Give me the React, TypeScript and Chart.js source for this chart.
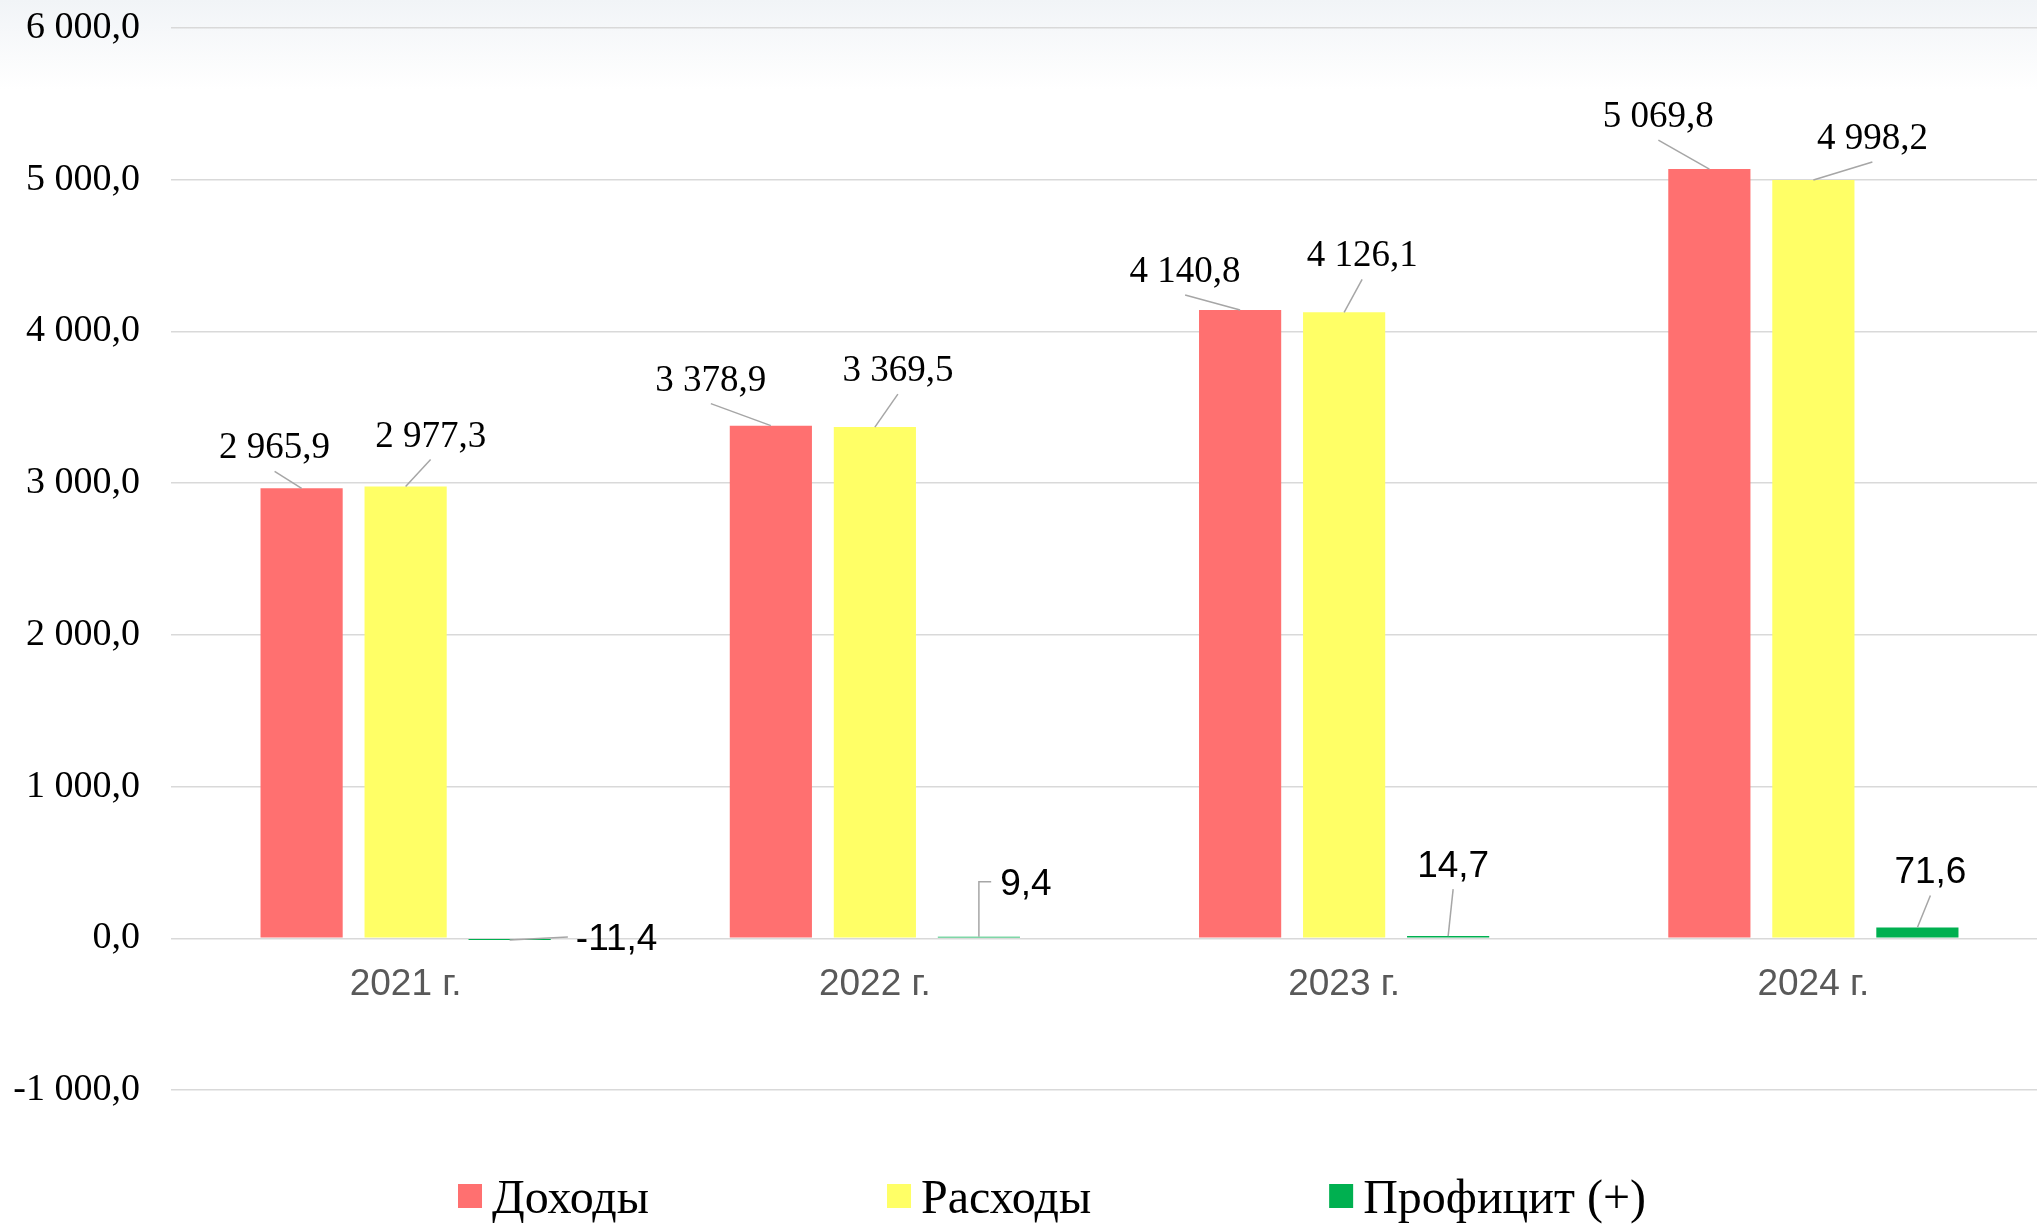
import React, { useEffect, useRef } from "react";
import { Chart, registerables } from "chart.js";

Chart.register(...registerables);

// ---- data ----
const categories = ["2021 г.", "2022 г.", "2023 г.", "2024 г."];
const seriesNames = ["Доходы", "Расходы", "Профицит (+)"];
const incomeValues = [2965.9, 3378.9, 4140.8, 5069.8];
const expenseValues = [2977.3, 3369.5, 4126.1, 4998.2];
const surplusValues = [-11.4, 9.4, 14.7, 71.6];
const yTickMin = -1000;
const yTickMax = 6000;
const yTickStep = 1000;

// ---- style / placement (not data) ----
const colors = ["#FF7070", "#FFFF66", "#00B050"];
const labelOffsets = [
  [[-27, -42], [-60, -47], [-55, -40], [-51, -54]],
  [[25, -52], [23, -58], [18, -58], [59, -43]],
  [[107, -3], [47, -55], [5, -72], [13, -57]],
];
const leaderKinds = [
  ["below", "below", "below", "below"],
  ["below", "below", "below", "below"],
  ["left", "elbow", "below", "below"],
];
const serif = "'Liberation Serif', 'Times New Roman', serif";
const sans = "'Liberation Sans', Arial, sans-serif";

function fmt(v: number): string {
  const neg = v < 0;
  const s = Math.abs(v).toFixed(1);
  const [ip, dp] = s.split(".");
  const grouped = ip.replace(/\B(?=(\d{3})+(?!\d))/g, " ");
  return (neg ? "-" : "") + grouped + "," + dp;
}

const labelPlugin = {
  id: "barLabels",
  afterDatasetsDraw(chart: any) {
    const ctx = chart.ctx;
    ctx.save();
    chart.data.datasets.forEach((ds: any, di: number) => {
      const meta = chart.getDatasetMeta(di);
      const isSans = di === 2;
      ctx.font = `37px ${isSans ? sans : serif}`;
      meta.data.forEach((el: any, j: number) => {
        const v = ds.data[j];
        const text = fmt(v);
        const [dx, dy] = labelOffsets[di][j];
        const bx = el.x;
        const by = el.y;
        const lx = bx + dx;
        const ly = by + dy;
        const w = ctx.measureText(text).width;
        ctx.strokeStyle = "#a6a6a6";
        ctx.lineWidth = 1.5;
        ctx.beginPath();
        const kind = leaderKinds[di][j];
        if (kind === "below") {
          ctx.moveTo(lx, ly + 25);
          ctx.lineTo(bx, by);
        } else if (kind === "left") {
          ctx.moveTo(bx, by);
          ctx.lineTo(lx - w / 2 - 8, ly);
        } else {
          ctx.moveTo(bx, by);
          ctx.lineTo(bx, ly);
          ctx.lineTo(lx - w / 2 - 9, ly);
        }
        ctx.stroke();
        ctx.fillStyle = "#000000";
        ctx.textAlign = "center";
        ctx.textBaseline = "alphabetic";
        ctx.fillText(text, lx, ly + (isSans ? 13 : 12));
      });
    });
    ctx.restore();
  },
};

const legendPlugin = {
  id: "customLegend",
  afterDraw(chart: any) {
    const ctx = chart.ctx;
    const area = chart.chartArea;
    ctx.save();
    ctx.font = `48px ${serif}`;
    const box = 24;
    const boxGap = 10;
    const itemGap = 238;
    const items = chart.data.datasets.map((ds: any) => ({
      text: ds.label,
      color: ds.backgroundColor,
      w: ctx.measureText(ds.label).width,
    }));
    const total =
      items.reduce((s: number, it: any) => s + box + boxGap + it.w, 0) +
      itemGap * (items.length - 1);
    let x = chart.width / 2 + 27 - total / 2;
    const baseY = area.bottom + 123;
    items.forEach((it: any) => {
      ctx.fillStyle = it.color;
      ctx.fillRect(x, baseY - 29, box, box);
      ctx.fillStyle = "#000000";
      ctx.textAlign = "left";
      ctx.textBaseline = "alphabetic";
      ctx.fillText(it.text, x + box + boxGap, baseY);
      x += box + boxGap + it.w + itemGap;
    });
    ctx.restore();
  },
};

export default function App() {
  const ref = useRef<HTMLCanvasElement | null>(null);
  useEffect(() => {
    if (!ref.current) return;
    const chart = new Chart(ref.current, {
      type: "bar",
      data: {
        labels: categories,
        datasets: [
          { label: seriesNames[0], data: incomeValues, backgroundColor: colors[0] },
          { label: seriesNames[1], data: expenseValues, backgroundColor: colors[1] },
          { label: seriesNames[2], data: surplusValues, backgroundColor: colors[2] },
        ],
      },
      options: {
        responsive: false,
        animation: false,
        devicePixelRatio: 1,
        layout: { padding: { left: 0, right: 2, top: 28, bottom: 137 } },
        datasets: {
          bar: { categoryPercentage: 0.665, barPercentage: 0.79 },
        },
        plugins: {
          legend: { display: false },
          tooltip: { enabled: false },
        },
        scales: {
          x: {
            type: "category",
            position: { y: 0 } as any,
            grid: { display: false, drawTicks: false },
            border: { display: false },
            ticks: {
              color: "#595959",
              font: { family: sans, size: 37 },
              padding: 24,
            },
          },
          y: {
            min: yTickMin,
            max: yTickMax,
            grid: {
              color: "#d9d9d9",
              lineWidth: 1.5,
              drawTicks: true,
              tickLength: 31,
              tickColor: "rgba(0,0,0,0)",
            },
            border: { display: false },
            afterFit: (scale: any) => {
              scale.width = 171;
            },
            ticks: {
              stepSize: yTickStep,
              color: "#000000",
              font: { family: serif, size: 38 },
              padding: 0,
              callback: (v: any) => fmt(Number(v)),
            },
          },
        },
      },
      plugins: [labelPlugin, legendPlugin],
    });
    return () => chart.destroy();
  }, []);
  return (
    <div
      style={{
        position: "fixed",
        left: 0,
        top: 0,
        width: 2037,
        height: 1227,
        overflow: "hidden",
        background: "linear-gradient(180deg, #f1f4f7 0px, #ffffff 90px)",
      }}
    >
      <canvas ref={ref} width={2050} height={1227} style={{ display: "block" }} />
    </div>
  );
}
